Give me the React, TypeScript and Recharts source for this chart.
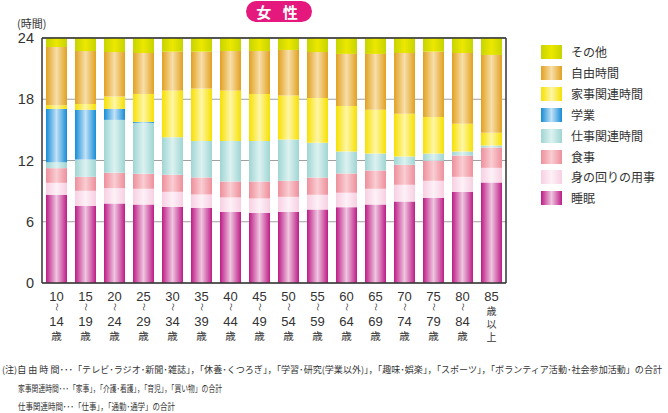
import React from "react";
import { BarChart, Bar, XAxis, YAxis, CartesianGrid, ReferenceLine } from "recharts";

const categories = [
  "10～14歳", "15～19歳", "20～24歳", "25～29歳", "30～34歳", "35～39歳", "40～44歳", "45～49歳",
  "50～54歳", "55～59歳", "60～64歳", "65～69歳", "70～74歳", "75～79歳", "80～84歳", "85歳以上",
];

const sleep = [8.64, 7.56, 7.79, 7.69, 7.47, 7.37, 6.98, 6.88, 6.98, 7.2, 7.43, 7.69, 7.98, 8.35, 8.93, 9.85];
const personalCare = [1.17, 1.47, 1.5, 1.54, 1.46, 1.3, 1.4, 1.4, 1.46, 1.44, 1.41, 1.54, 1.64, 1.66, 1.47, 1.43];
const meals = [1.44, 1.37, 1.5, 1.46, 1.67, 1.67, 1.56, 1.66, 1.57, 1.69, 1.89, 1.79, 1.96, 1.96, 2.09, 1.99];
const workRelated = [0.59, 1.7, 5.19, 4.99, 3.68, 3.58, 3.98, 3.98, 4.04, 3.4, 2.15, 1.66, 0.81, 0.71, 0.39, 0.2];
const schoolwork = [5.21, 4.86, 1.07, 0.1, 0, 0, 0, 0, 0, 0, 0, 0, 0, 0, 0, 0];
const housework = [0.36, 0.58, 1.21, 2.74, 4.57, 5.12, 4.93, 4.6, 4.31, 4.4, 4.47, 4.28, 4.18, 3.59, 2.71, 1.24];
const freeTime = [5.71, 5.18, 4.37, 4.01, 3.81, 3.62, 3.88, 4.21, 4.47, 4.5, 5.09, 5.48, 5.96, 6.39, 6.94, 7.63];
const other = [0.88, 1.28, 1.37, 1.47, 1.34, 1.34, 1.27, 1.27, 1.17, 1.37, 1.56, 1.56, 1.47, 1.34, 1.47, 1.66];

const yTicks = [0, 6, 12, 18, 24];

const series = [
  { key: "sleep", name: "睡眠", values: sleep, edge: "#bd1c86", mid: "#efc6e0" },
  { key: "personalCare", name: "身の回りの用事", values: personalCare, edge: "#f7cfe2", mid: "#fdf1f7" },
  { key: "meals", name: "食事", values: meals, edge: "#ee8f9c", mid: "#f9cdd2" },
  { key: "workRelated", name: "仕事関連時間", values: workRelated, edge: "#9fd5d3", mid: "#dcf2f1" },
  { key: "schoolwork", name: "学業", values: schoolwork, edge: "#168cd6", mid: "#c2e2f7" },
  { key: "housework", name: "家事関連時間", values: housework, edge: "#f6e000", mid: "#fff6a6" },
  { key: "freeTime", name: "自由時間", values: freeTime, edge: "#e2a020", mid: "#f7dfa9" },
  { key: "other", name: "その他", values: other, edge: "#c6d400", mid: "#ece800" },
];

const notes = [
  "(注)自 由 時 間･･･「テレビ･ラジオ･新聞･雑誌」，「休養･くつろぎ」，「学習･研究(学業以外)」，「趣味･娯楽」，「スポーツ」，「ボランティア活動･社会参加活動」の合計",
  "家事関連時間･･･「家事」，「介護･看護」，「育児」，「買い物」の合計",
  "仕事関連時間･･･「仕事」，「通勤･通学」の合計",
];

const data = categories.map((c, i) => {
  const row: Record<string, number | string> = { category: c };
  series.forEach((s) => {
    row[s.key] = s.values[i];
  });
  return row;
});

const JP = "'Noto Sans CJK JP', 'Noto Sans', sans-serif";
const NUM = "'Liberation Sans', Arial, sans-serif";

const XTick = (props: any) => {
  const { x, y, payload } = props;
  const v: string = payload.value;
  const b = y + 18;
  if (v.includes("～")) {
    const [from, rest] = v.split("～");
    const to = rest.replace("歳", "");
    return (
      <g fill="#333">
        <text x={x} y={b} textAnchor="middle" fontFamily={NUM} fontSize={13}>{from}</text>
        <text x={x} y={b + 9} textAnchor="middle" fontFamily={JP} fontSize={8}
          transform={`rotate(90 ${x} ${b + 6})`}>～</text>
        <text x={x} y={b + 25} textAnchor="middle" fontFamily={NUM} fontSize={13}>{to}</text>
        <text x={x} y={b + 39} textAnchor="middle" fontFamily={JP} fontSize={10.5}>歳</text>
      </g>
    );
  }
  const num = v.replace("歳以上", "");
  return (
    <g fill="#333">
      <text x={x} y={b} textAnchor="middle" fontFamily={NUM} fontSize={13}>{num}</text>
      <text x={x} y={b + 13.5} textAnchor="middle" fontFamily={JP} fontSize={10}>歳</text>
      <text x={x} y={b + 26.5} textAnchor="middle" fontFamily={JP} fontSize={10}>以</text>
      <text x={x} y={b + 39.5} textAnchor="middle" fontFamily={JP} fontSize={10}>上</text>
    </g>
  );
};

export default function App() {
  const legendItems = [...series].reverse();
  return (
    <div style={{ position: "absolute", left: 0, top: 0, width: 668, height: 413, background: "#fff", overflow: "hidden" }}>
      <BarChart
        width={668}
        height={413}
        data={data}
        margin={{ top: 38, right: 161, bottom: 0, left: 0 }}
        barSize={21}
      >
        <defs>
          {series.map((s) => (
            <linearGradient key={s.key} id={`g-${s.key}`} x1="0" y1="0" x2="1" y2="0">
              <stop offset="0%" stopColor={s.edge} />
              <stop offset="50%" stopColor={s.mid} />
              <stop offset="100%" stopColor={s.edge} />
            </linearGradient>
          ))}
        </defs>
        <CartesianGrid horizontal vertical={false} stroke="#a0a0a0" strokeWidth={1.2} />
        <XAxis
          dataKey="category"
          interval={0}
          tickLine={false}
          tickMargin={0}
          tickSize={0}
          tick={<XTick />}
          height={130}
          axisLine={{ stroke: "#333", strokeWidth: 1.5 }}
        />
        <YAxis
          domain={[0, 24]}
          ticks={yTicks}
          tickLine={false}
          width={42}
          tickMargin={2}
          axisLine={{ stroke: "#333", strokeWidth: 1.5 }}
          tick={{ fontSize: 14.5, fill: "#333", fontFamily: NUM }}
        />
        <YAxis
          yAxisId="right"
          orientation="right"
          domain={[0, 24]}
          ticks={yTicks}
          tick={false}
          tickLine={false}
          width={1}
          axisLine={{ stroke: "#333", strokeWidth: 1.5 }}
        />
        {series.map((s) => (
          <Bar key={s.key} dataKey={s.key} name={s.name} stackId="a" fill={`url(#g-${s.key})`} isAnimationActive={false} />
        ))}
        <ReferenceLine y={24} stroke="#333" strokeWidth={1.5} />
      </BarChart>

      <div style={{ position: "absolute", left: 246, top: 1, width: 66, height: 21, borderRadius: 11, background: "#e5197d",
        color: "#fff", fontFamily: JP, fontWeight: 700, fontSize: 15, lineHeight: "21px", textAlign: "center", letterSpacing: 4 }}>
        女 性
      </div>
      <div style={{ position: "absolute", left: 17, top: 18, fontFamily: JP, fontSize: 11, color: "#333", lineHeight: "11px" }}>(時間)</div>

      {legendItems.map((s, i) => (
        <div key={s.key} style={{ position: "absolute", left: 541, top: 45 + i * 20.9, height: 14, display: "flex", alignItems: "center" }}>
          <div style={{ width: 21, height: 14, background: `linear-gradient(to right, ${s.edge}, ${s.mid}, ${s.edge})` }} />
          <div style={{ marginLeft: 9, fontFamily: JP, fontSize: 12, color: "#333", whiteSpace: "nowrap", lineHeight: "14px" }}>{s.name}</div>
        </div>
      ))}

      <svg width={668} height={60} style={{ position: "absolute", left: 0, top: 353 }}>
        <text x={2} y={20} fontFamily={JP} fontSize={9} fill="#333" textLength={660} lengthAdjust="spacingAndGlyphs">{notes[0]}</text>
        <text x={18} y={39} fontFamily={JP} fontSize={9} fill="#333" textLength={204} lengthAdjust="spacingAndGlyphs">{notes[1]}</text>
        <text x={18} y={57} fontFamily={JP} fontSize={9} fill="#333" textLength={157} lengthAdjust="spacingAndGlyphs">{notes[2]}</text>
      </svg>
    </div>
  );
}
